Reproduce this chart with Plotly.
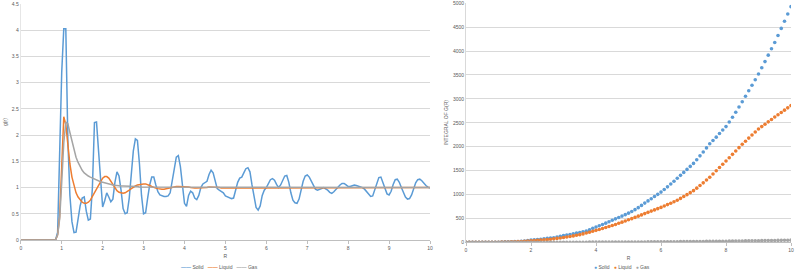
import plotly.graph_objects as go

# ---------------- data ----------------
R_FINE = [i / 20 for i in range(201)]      # r grid for g(r), step 0.05
R_COARSE = [i / 10 for i in range(101)]    # r grid for integral, step 0.1

G_SOLID = [
    0, 0, 0, 0, 0, 0, 0, 0, 0, 0,
    0, 0, 0, 0, 0, 0, 0, 0, 0.15, 1.5,
    3.2, 4.03, 4.03, 1.9, 0.85, 0.35, 0.14, 0.15, 0.4, 0.65,
    0.8, 0.82, 0.55, 0.38, 0.40, 1.0, 2.24, 2.25, 1.7, 1.1,
    0.63, 0.75, 0.9, 0.82, 0.73, 0.78, 1.1, 1.3, 1.22, 0.95,
    0.6, 0.5, 0.52, 0.8, 1.3, 1.7, 1.93, 1.9, 1.45, 0.85,
    0.5, 0.52, 0.8, 1.05, 1.2, 1.2, 1.05, 0.92, 0.86, 0.84,
    0.83, 0.83, 0.84, 0.9, 1.1, 1.35, 1.58, 1.61, 1.4, 1.0,
    0.7, 0.64, 0.85, 0.93, 0.9, 0.8, 0.77, 0.85, 1.0, 1.07,
    1.09, 1.12, 1.25, 1.33, 1.28, 1.1, 0.98, 0.95, 0.93, 0.9,
    0.84, 0.82, 0.81, 0.79, 0.8, 0.95, 1.1, 1.18, 1.2, 1.28,
    1.36, 1.38, 1.3, 1.05, 0.8, 0.62, 0.57, 0.65, 0.85, 0.95,
    1.0, 1.08, 1.15, 1.17, 1.14, 1.06, 1.0, 1.05, 1.15, 1.22,
    1.23, 1.1, 0.9, 0.76, 0.71, 0.70, 0.78, 0.95, 1.12, 1.22,
    1.24, 1.2, 1.12, 1.03, 0.97, 0.95, 0.96, 0.98, 1.0, 0.98,
    0.95, 0.91, 0.89, 0.92, 0.97, 1.01, 1.05, 1.08, 1.08, 1.05,
    1.02, 1.02, 1.04, 1.05, 1.04, 1.03, 1.01, 1.0, 0.97, 0.92,
    0.87, 0.83, 0.84, 0.95, 1.1, 1.19, 1.2, 1.1, 0.97, 0.88,
    0.86, 0.93, 1.06, 1.15, 1.16, 1.1, 1.0, 0.9, 0.82, 0.78,
    0.79, 0.86, 0.98, 1.09, 1.15, 1.16, 1.13, 1.08, 1.04, 1.01,
    0.99,
]

G_LIQUID = [
    0, 0, 0, 0, 0, 0, 0, 0, 0, 0,
    0, 0, 0, 0, 0, 0, 0, 0, 0.1, 0.45,
    1.4, 2.35, 2.2, 1.8, 1.45, 1.2, 1.02, 0.9, 0.82, 0.76,
    0.72, 0.70, 0.70, 0.72, 0.76, 0.83, 0.9, 0.98, 1.06, 1.13,
    1.18, 1.21, 1.21, 1.18, 1.12, 1.05, 0.99, 0.94, 0.91, 0.90,
    0.89, 0.90, 0.92, 0.95, 0.98, 1.01, 1.03, 1.05, 1.06, 1.07,
    1.07, 1.07, 1.06, 1.04, 1.02, 1.0, 0.99, 0.98, 0.97, 0.97,
    0.97, 0.98, 0.98, 0.99, 1.0, 1.01, 1.02, 1.02, 1.02, 1.02,
    1.02, 1.01, 1.01, 1.0, 0.99, 0.99, 0.99, 0.99, 0.99, 1.0,
    1.0, 1.0, 1.01, 1.01, 1.01, 1.0, 1.0, 1.0, 0.99, 0.99,
    0.99, 0.99, 1.0, 1.0, 1.0, 1.0, 1.0, 1.0, 1.0, 1.0,
    1.0, 1.0, 1.0, 1.0, 1.0, 1.0, 1.0, 1.0, 1.0, 1.0,
    1.0, 1.0, 1.0, 1.0, 1.0, 1.0, 1.0, 1.0, 1.0, 1.0,
    1.0, 1.0, 1.0, 1.0, 1.0, 1.0, 1.0, 1.0, 1.0, 1.0,
    1.0, 1.0, 1.0, 1.0, 1.0, 1.0, 1.0, 1.0, 1.0, 1.0,
    1.0, 1.0, 1.0, 1.0, 1.0, 1.0, 1.0, 1.0, 1.0, 1.0,
    1.0, 1.0, 1.0, 1.0, 1.0, 1.0, 1.0, 1.0, 1.0, 1.0,
    1.0, 1.0, 1.0, 1.0, 1.0, 1.0, 1.0, 1.0, 1.0, 1.0,
    1.0, 1.0, 1.0, 1.0, 1.0, 1.0, 1.0, 1.0, 1.0, 1.0,
    1.0, 1.0, 1.0, 1.0, 1.0, 1.0, 1.0, 1.0, 1.0, 1.0,
    1.0,
]

G_GAS = [
    0, 0, 0, 0, 0, 0, 0, 0, 0, 0,
    0, 0, 0, 0, 0, 0, 0, 0, 0.1, 0.4,
    1.1, 1.85, 2.25, 2.22, 2.05, 1.88, 1.72, 1.58, 1.48, 1.40,
    1.33, 1.28, 1.24, 1.22, 1.20, 1.18, 1.16, 1.14, 1.13, 1.11,
    1.10, 1.09, 1.08, 1.06, 1.05, 1.05, 1.04, 1.04, 1.03, 1.03,
    1.03, 1.03, 1.02, 1.02, 1.02, 1.02, 1.02, 1.02, 1.01, 1.01,
    1.01, 1.01, 1.01, 1.01, 1.01, 1.01, 1.01, 1.01, 1.01, 1.01,
    1.01, 1.01, 1.01, 1.01, 1.01, 1.0, 1.0, 1.0, 1.0, 1.0,
    1.0, 1.0, 1.0, 1.0, 1.0, 1.0, 1.0, 1.0, 1.0, 1.0,
    1.0, 1.0, 1.0, 1.0, 1.0, 1.0, 1.0, 1.0, 1.0, 1.0,
    1.0, 1.0, 1.0, 1.0, 1.0, 1.0, 1.0, 1.0, 1.0, 1.0,
    1.0, 1.0, 1.0, 1.0, 1.0, 1.0, 1.0, 1.0, 1.0, 1.0,
    1.0, 1.0, 1.0, 1.0, 1.0, 1.0, 1.0, 1.0, 1.0, 1.0,
    1.0, 1.0, 1.0, 1.0, 1.0, 1.0, 1.0, 1.0, 1.0, 1.0,
    1.0, 1.0, 1.0, 1.0, 1.0, 1.0, 1.0, 1.0, 1.0, 1.0,
    1.0, 1.0, 1.0, 1.0, 1.0, 1.0, 1.0, 1.0, 1.0, 1.0,
    1.0, 1.0, 1.0, 1.0, 1.0, 1.0, 1.0, 1.0, 1.0, 1.0,
    1.0, 1.0, 1.0, 1.0, 1.0, 1.0, 1.0, 1.0, 1.0, 1.0,
    1.0, 1.0, 1.0, 1.0, 1.0, 1.0, 1.0, 1.0, 1.0, 1.0,
    1.0, 1.0, 1.0, 1.0, 1.0, 1.0, 1.0, 1.0, 1.0, 1.0,
    1.0,
]

INT_SOLID = [
    0, 0, 0, 0, 0, 0, 0, 0, 0, 0,
    2, 6, 9, 10, 11, 13, 16, 20, 27, 38,
    45, 51, 57, 64, 73, 82, 88, 96, 110, 126,
    140, 150, 163, 178, 192, 205, 218, 233, 260, 292,
    320, 345, 372, 400, 430, 460, 490, 518, 548, 578,
    610, 645, 683, 725, 772, 820, 866, 912, 958, 1003,
    1050, 1105, 1160, 1218, 1278, 1340, 1400, 1462, 1525, 1588,
    1650, 1728, 1808, 1890, 1975, 2060, 2130, 2200, 2275, 2350,
    2420, 2515, 2615, 2720, 2830, 2940, 3055, 3170, 3285, 3400,
    3520, 3650, 3780, 3915, 4048, 4180, 4325, 4475, 4625, 4775,
    4930,
]

INT_LIQUID = [
    0, 0, 0, 0, 0, 0, 0, 0, 0, 0,
    2, 4, 6, 7, 8, 10, 13, 16, 20, 25,
    30, 35, 40, 45, 50, 55, 63, 72, 81, 90,
    100, 111, 122, 134, 147, 160, 176, 193, 211, 230,
    250, 269, 288, 308, 329, 350, 373, 397, 421, 445,
    470, 495, 521, 547, 573, 600, 626, 652, 678, 704,
    730, 759, 788, 818, 849, 880, 918, 957, 997, 1038,
    1080, 1133, 1188, 1244, 1302, 1360, 1428, 1496, 1564, 1632,
    1700, 1770, 1840, 1910, 1980, 2050, 2115, 2180, 2245, 2308,
    2370, 2420, 2470, 2520, 2570, 2620, 2668, 2716, 2764, 2812,
    2860,
]

INT_GAS = [
    0, 0, 0, 0, 0, 0, 0, 0, 0, 0,
    0.05, 0.06, 0.08, 0.1, 0.12, 0.15, 0.18, 0.22, 0.26, 0.31,
    0.36, 0.42, 0.48, 0.55, 0.62, 0.7, 0.79, 0.89, 0.99, 1.1,
    1.2, 1.34, 1.47, 1.62, 1.77, 1.93, 2.1, 2.28, 2.47, 2.67,
    2.88, 3.1, 3.33, 3.58, 3.83, 4.1, 4.38, 4.67, 4.98, 5.29,
    5.63, 5.97, 6.33, 6.7, 7.09, 7.49, 7.9, 8.33, 8.78, 9.24,
    9.72, 10.2, 10.7, 11.3, 11.8, 12.4, 12.9, 13.5, 14.1, 14.8,
    15.4, 16.1, 16.8, 17.5, 18.2, 19.0, 19.8, 20.5, 21.4, 22.2,
    23.0, 23.9, 24.8, 25.7, 26.7, 27.6, 28.6, 29.6, 30.7, 31.7,
    32.8, 33.9, 35.0, 36.2, 37.4, 38.6, 39.8, 41.1, 42.4, 43.7,
    45.0,
]

SERIES = ["Solid", "Liquid", "Gas"]
COLORS = ["#5b9bd5", "#ed7d31", "#a5a5a5"]

LEFT_Y_TICKS = [0, 0.5, 1, 1.5, 2, 2.5, 3, 3.5, 4, 4.5]
LEFT_Y_LABELS = ["0", "0.5", "1", "1.5", "2", "2.5", "3", "3.5", "4", "4.5"]
LEFT_X_TICKS = [0, 1, 2, 3, 4, 5, 6, 7, 8, 9, 10]
RIGHT_Y_TICKS = [0, 500, 1000, 1500, 2000, 2500, 3000, 3500, 4000, 4500, 5000]
RIGHT_X_TICKS = [0, 2, 4, 6, 8, 10]

# ---------------- figure ----------------
fig = go.Figure()

for name, ys, col in zip(SERIES, [G_SOLID, G_LIQUID, G_GAS], COLORS):
    fig.add_trace(go.Scatter(
        x=R_FINE, y=ys, name=name, mode="lines",
        line=dict(color=col, width=1.5),
        xaxis="x", yaxis="y", showlegend=False,
    ))

for name, ys, col in zip(SERIES, [INT_SOLID, INT_LIQUID, INT_GAS], COLORS):
    fig.add_trace(go.Scatter(
        x=R_COARSE, y=ys, name=name, mode="markers",
        marker=dict(color=col, size=3.6, line=dict(width=0)),
        xaxis="x2", yaxis="y2", showlegend=False,
    ))

FONT = "Liberation Sans, Arial, sans-serif"
tickfont = dict(family=FONT, size=5, color="#595959")
titlefont = dict(family=FONT, size=5, color="#595959")
grid = "#d9d9d9"

# compact Excel-style legends built from the series names and colours
left_legend = "&nbsp;&nbsp;&nbsp;".join(
    f"<span style='color:{c}'><b>——</b></span> {n}" for n, c in zip(SERIES, COLORS)
)
right_legend = "&nbsp;&nbsp;&nbsp;".join(
    f"<span style='color:{c}'>●</span> {n}" for n, c in zip(SERIES, COLORS)
)

fig.update_layout(
    width=800, height=273,
    margin=dict(l=0, r=0, t=0, b=0, autoexpand=False),
    paper_bgcolor="white", plot_bgcolor="white",
    font=dict(family=FONT, size=5, color="#595959"),
    showlegend=False,
    xaxis=dict(
        domain=[0.026, 0.5375], range=[0, 10],
        tickvals=LEFT_X_TICKS, ticktext=[str(v) for v in LEFT_X_TICKS],
        showgrid=False, zeroline=False,
        showline=True, linecolor="#bfbfbf", linewidth=1,
        ticks="outside", ticklen=3, tickcolor="#bfbfbf",
        tickfont=tickfont,
        title=dict(text="R", font=titlefont, standoff=4),
        anchor="y",
    ),
    yaxis=dict(
        domain=[0.1209, 0.985], range=[0, 4.5],
        tickvals=LEFT_Y_TICKS, ticktext=LEFT_Y_LABELS,
        showgrid=True, gridcolor=grid, gridwidth=1, zeroline=False,
        showline=True, linecolor="#e6e6e6", linewidth=1,
        tickfont=tickfont, ticks="",
        title=dict(text="g(r)", font=titlefont, standoff=4),
        anchor="x",
    ),
    xaxis2=dict(
        domain=[0.5825, 0.98875], range=[0, 10],
        tickvals=RIGHT_X_TICKS, ticktext=[str(v) for v in RIGHT_X_TICKS],
        showgrid=False, zeroline=False,
        showline=True, linecolor="#bfbfbf", linewidth=1,
        ticks="outside", ticklen=3, tickcolor="#bfbfbf",
        tickfont=tickfont,
        title=dict(text="R", font=titlefont, standoff=4),
        anchor="y2",
    ),
    yaxis2=dict(
        domain=[0.1125, 0.988], range=[0, 5000],
        tickvals=RIGHT_Y_TICKS, ticktext=[str(v) for v in RIGHT_Y_TICKS],
        showgrid=True, gridcolor=grid, gridwidth=1, zeroline=False,
        showline=True, linecolor="#d9d9d9", linewidth=1,
        tickfont=tickfont, ticks="",
        title=dict(text="INTEGRAL OF G(R)", font=titlefont, standoff=4),
        anchor="x2",
    ),
    annotations=[
        dict(text=left_legend, xref="paper", yref="paper", x=0.274, y=0.022,
             xanchor="center", yanchor="middle", showarrow=False,
             font=dict(family=FONT, size=5, color="#595959")),
        dict(text=right_legend, xref="paper", yref="paper", x=0.777, y=0.022,
             xanchor="center", yanchor="middle", showarrow=False,
             font=dict(family=FONT, size=5, color="#595959")),
    ],
)

fig.write_html("out.html")
